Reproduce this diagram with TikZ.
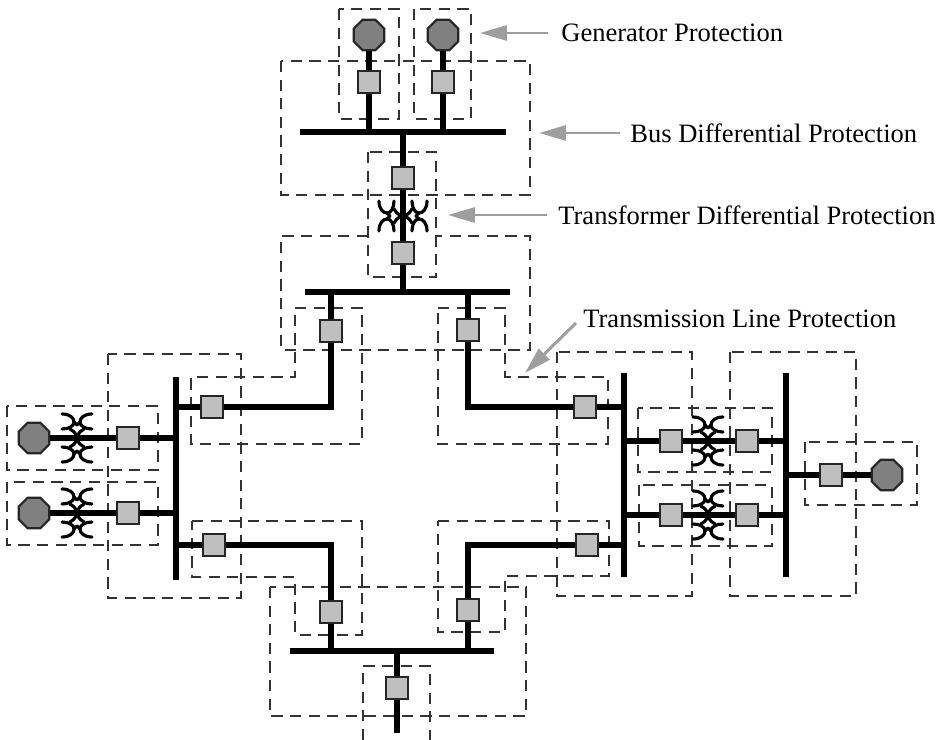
\documentclass[tikz,border=0pt]{standalone}
\usepackage{fontspec}
\setmainfont{Liberation Serif}
\usetikzlibrary{arrows.meta,shapes.geometric}
\definecolor{gengray}{gray}{0.5}
\definecolor{brkgray}{gray}{0.75}
\definecolor{arrgray}{gray}{0.62}
\tikzset{
  zone/.style={draw=black!80,line width=1.1pt,dash pattern=on 6.4pt off 4.2pt},
  busbar/.style={line width=3.6pt},
  feeder/.style={line width=3pt},
  breaker/.style={draw=black!85,fill=brkgray,line width=1.5pt,minimum size=0.44cm,inner sep=0pt},
  generator/.style={regular polygon,regular polygon sides=8,draw=black!85,fill=gengray,line width=1.2pt,minimum size=0.66cm,inner sep=0pt},
  caption/.style={anchor=west,font=\fontsize{15.1}{17}\selectfont,inner sep=0pt},
  pointer/.style={draw=arrgray,line width=1.7pt,-{Triangle[length=0.54cm,width=0.3cm,fill=arrgray]}},
  winding/.style={line width=1.8pt,line cap=round},
  xfmr/.pic={
    % the coupled windings, drawn for a horizontal feeder
    \foreach \s in {1,-1}{
      \foreach \t in {1,-1}{
        \draw[winding] (\s*15,\t*24) .. controls (\s*7,\t*24) and (\s*3,\t*20) .. (\s*3,\t*16)
          .. controls (\s*3,\t*12) and (\s*8,\t*9) .. (\s*15,\t*9);
        \draw[winding] (\s*3,\t*16) -- (0,\t*13);
        \draw[winding] (\s*7,\t*9) .. controls (\s*4,\t*8) and (\s*2,\t*5) .. (0,\t*2);
      }
    }
  }
}
\begin{document}
\begin{tikzpicture}[x=0.02cm,y=-0.02cm]
  \useasboundingbox (0,0) rectangle (944,740);

  % protection zones
  \draw[zone] (339,9) rectangle (399,119);
  \draw[zone] (414,9) rectangle (471,119);
  \draw[zone] (281,61) rectangle (530,195);
  \draw[zone] (368,152) rectangle (436,277);
  \draw[zone] (368,236) -- (281,236) -- (281,350) -- (530,350) -- (530,236) -- (436,236);
  \draw[zone] (295,308) -- (362,308) -- (362,444) -- (191,444) -- (191,377) -- (295,377) -- cycle;
  \draw[zone] (438,308) -- (505,308) -- (505,377) -- (608,377) -- (608,444) -- (438,444) -- cycle;
  \draw[zone] (192,521) -- (362,521) -- (362,635) -- (295,635) -- (295,577) -- (192,577) -- cycle;
  \draw[zone] (438,521) -- (609,521) -- (609,576) -- (505,576) -- (505,632) -- (438,632) -- cycle;
  \draw[zone] (270,587) rectangle (526,716);
  \draw[zone] (363,740) -- (363,666) -- (430,666) -- (430,740);
  \draw[zone] (108,354) rectangle (241,598);
  \draw[zone] (7,406) rectangle (158,470);
  \draw[zone] (7,482) rectangle (158,545);
  \draw[zone] (557,352) rectangle (692,596);
  \draw[zone] (730,352) rectangle (856,596);
  \draw[zone] (638,408) rectangle (772,472);
  \draw[zone] (639,485) rectangle (772,546);
  \draw[zone] (805,442) rectangle (917,505);

  % bus bars
  \draw[busbar] (300,132) -- (506,132);
  \draw[busbar] (305,292) -- (510,292);
  \draw[busbar] (290,651) -- (494,651);
  \draw[busbar] (176,377) -- (176,580);
  \draw[busbar] (624,373) -- (624,577);
  \draw[busbar] (786,373) -- (786,577);

  % top
  \foreach \n/\x in {g1/369,g2/443}{
    \node[generator] (\n) at (\x,35) {};
    \node[breaker] (\n b) at (\x,82) {};
    \coordinate (\n t) at (\x,132);
    \draw[feeder] (\n) -- (\n b) -- (\n t);
  }
  \coordinate (tA) at (403,132);
  \coordinate (tB) at (403,292);
  \draw[feeder] (tA) -- (tB);
  \node[breaker] (tb1) at (403,178) {};
  \node[breaker] (tb2) at (403,253) {};
  \pic[rotate=90] at (403,216) {xfmr};

  % left and right generators
  \foreach \n/\y in {l1/438,l2/513}{
    \node[generator] (\n) at (34,\y) {};
    \coordinate (\n t) at (176,\y);
    \draw[feeder] (\n) -- (\n t);
    \node[breaker] (\n b) at (128,\y) {};
    \pic at (77,\y) {xfmr};
  }
  \foreach \n/\y in {r1/441,r2/515}{
    \coordinate (\n a) at (624,\y);
    \coordinate (\n c) at (786,\y);
    \draw[feeder] (\n a) -- (\n c);
    \node[breaker] (\n b) at (671,\y) {};
    \node[breaker] (\n d) at (747,\y) {};
    \pic at (708,\y) {xfmr};
  }
  \coordinate (r3) at (786,475);
  \node[generator] (g3) at (887,475) {};
  \draw[feeder] (r3) -- (g3);
  \node[breaker] (g3b) at (831,475) {};

  % transmission lines
  \foreach \n/\xa/\ya/\xb/\yb/\bx/\by/\cy in {
      a/331/292/176/407/212/407/331,
      b/468/292/624/407/585/407/330,
      c/331/651/176/545/214/545/612,
      d/468/651/624/545/587/545/610}{
    \coordinate (\n s) at (\xa,\ya);
    \coordinate (\n e) at (\xb,\yb);
    \draw[feeder,line join=miter] (\n s) |- (\n e);
    \node[breaker] (\n 1) at (\xa,\cy) {};
    \node[breaker] (\n 2) at (\bx,\by) {};
  }

  % bottom feeder
  \coordinate (fs) at (397,651);
  \coordinate (fe) at (397,733);
  \draw[feeder] (fs) -- (fe);
  \node[breaker] (fb) at (397,688) {};

  % captions
  \node[caption] (capG) at (561,33) {Generator Protection};
  \node[caption] (capB) at (630,133) {Bus Differential Protection};
  \node[caption] (capT) at (558,215) {Transformer Differential Protection};
  \node[caption] (capL) at (583,319) {Transmission Line Protection};
  \coordinate (tipG) at (480,33);
  \coordinate (tipB) at (539,133);
  \coordinate (tipT) at (448,215);
  \coordinate (tipL) at (525,373);
  \draw[pointer] (capG.west) ++(-13,0) -- (tipG);
  \draw[pointer] (capB.west) ++(-10,0) -- (tipB);
  \draw[pointer] (capT.west) ++(-11,0) -- (tipT);
  \draw[pointer] (576,323) -- (tipL);
\end{tikzpicture}
\end{document}
